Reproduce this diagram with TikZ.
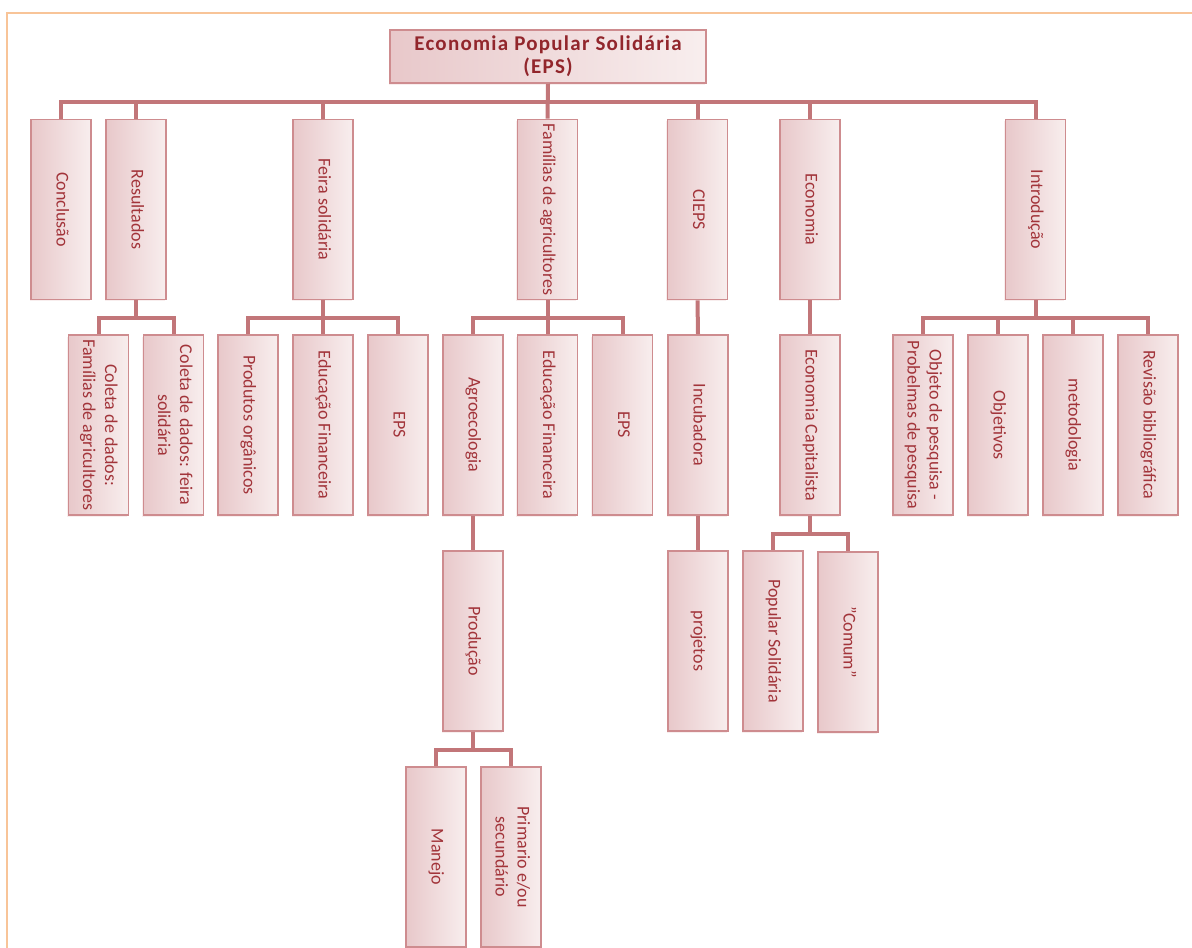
\documentclass[tikz,border=0pt]{standalone}
\usepackage{fontspec}
\setmainfont{Carlito}
\usepackage{graphicx}
\usetikzlibrary{positioning,shadows}
\definecolor{BoxLine}{RGB}{206,140,143}
\definecolor{ConnColor}{RGB}{194,118,121}
\definecolor{BoxDark}{RGB}{232,200,202}
\definecolor{BoxLight}{RGB}{248,238,238}
\definecolor{BoxText}{RGB}{162,52,58}
\definecolor{TitleText}{RGB}{146,38,44}
\definecolor{FrameColor}{RGB}{248,196,152}
\tikzset{box/.style={draw=BoxLine, line width=1.8pt, left color=BoxDark, right color=BoxLight,
			minimum width=60pt, minimum height=180pt, inner sep=0pt, text=BoxText,
			font=\fontsize{18}{22}\selectfont,
			drop shadow={shadow xshift=-1.2pt, shadow yshift=-1.5pt, fill=BoxLine, opacity=0.15}},
	conn/.style={draw=ConnColor, line width=4pt}}
\newcommand{\vlabel}[1]{\rotatebox{-90}{\begin{tabular}{@{}c@{}}#1\end{tabular}}}

\begin{document}
\begin{tikzpicture}[x=1pt,y=-1pt]
	\useasboundingbox (0,0) rectangle (1192,948);
	\draw[FrameColor, line width=2pt] (7,948) -- (7,13) -- (1192,13);
	% top
	\node[box, minimum width=316pt, minimum height=53pt, text=TitleText,
		font=\fontsize{21}{23}\selectfont\bfseries\addfontfeature{LetterSpace=6}, align=center] (eps) at (548,56.5)
		{Economia Popular Solidária\\(EPS)};
	% first row
	\node[box] (concl) at (61,209.5) {\vlabel{Conclusão}};
	\node[box] (result) at (136,209.5) {\vlabel{Resultados}};
	\node[box] (feira) at (323,209.5) {\vlabel{Feira solidária}};
	\node[box] (famil) at (547.5,209.5) {\vlabel{Famílias de agricultores}};
	\node[box] (cieps) at (697.5,209.5) {\vlabel{CIEPS}};
	\node[box] (econ) at (810,209.5) {\vlabel{Economia}};
	\node[box] (intro) at (1035.5,209.5) {\vlabel{Introdução}};
	% second row
	\node[box] (coletaF) at (98.5,425) {\vlabel{Coleta de dados:\\Famílias de agricultores}};
	\node[box] (coletaS) at (173.5,425) {\vlabel{Coleta de dados: feira\\solidária}};
	\node[box] (organ) at (248,425) {\vlabel{Produtos orgânicos}};
	\node[box] (educA) at (323,425) {\vlabel{Educação Financeira}};
	\node[box] (epsA) at (398,425) {\vlabel{EPS}};
	\node[box] (agro) at (473,425) {\vlabel{Agroecologia}};
	\node[box] (educB) at (547.5,425) {\vlabel{Educação Financeira}};
	\node[box] (epsB) at (622.5,425) {\vlabel{EPS}};
	\node[box] (incub) at (698,425) {\vlabel{Incubadora}};
	\node[box] (ecap) at (810,425) {\vlabel{Economia Capitalista}};
	\node[box] (objeto) at (923,425) {\vlabel{Objeto de pesquisa -\\Probelmas de pesquisa}};
	\node[box] (objet) at (998,425) {\vlabel{Objetivos}};
	\node[box] (metod) at (1073,425) {\vlabel{metodologia}};
	\node[box] (revis) at (1148,425) {\vlabel{Revisão bibliográfica}};
	% third row
	\node[box] (prod) at (473,641) {\vlabel{Produção}};
	\node[box] (proj) at (698,641) {\vlabel{projetos}};
	\node[box] (popsol) at (773,641) {\vlabel{Popular Solidária}};
	\node[box] (comum) at (848,642) {\vlabel{"Comum”}};
	% fourth row
	\node[box] (manejo) at (436,857) {\vlabel{Manejo}};
	\node[box] (prim) at (511,857) {\vlabel{Primario e/ou\\secundário}};
	% connectors
	\draw[conn] (eps.south) -- ++(0,18) -| (concl.north);
	\draw[conn] (eps.south) -- ++(0,18) -| (result.north);
	\draw[conn] (eps.south) -- ++(0,18) -| (feira.north);
	\draw[conn] (eps.south) -- (famil.north);
	\draw[conn] (eps.south) -- ++(0,18) -| (cieps.north);
	\draw[conn] (eps.south) -- ++(0,18) -| (econ.north);
	\draw[conn] (eps.south) -- ++(0,18) -| (intro.north);
	\draw[conn] (result.south) -- ++(0,18) -| (coletaF.north);
	\draw[conn] (result.south) -- ++(0,18) -| (coletaS.north);
	\draw[conn] (feira.south) -- ++(0,18) -| (organ.north);
	\draw[conn] (feira.south) -- (educA.north);
	\draw[conn] (feira.south) -- ++(0,18) -| (epsA.north);
	\draw[conn] (famil.south) -- ++(0,18) -| (agro.north);
	\draw[conn] (famil.south) -- (educB.north);
	\draw[conn] (famil.south) -- ++(0,18) -| (epsB.north);
	\draw[conn] (cieps.south) -- (incub.north);
	\draw[conn] (econ.south) -- (ecap.north);
	\draw[conn] (intro.south) -- ++(0,18) -| (objeto.north);
	\draw[conn] (intro.south) -- ++(0,18) -| (objet.north);
	\draw[conn] (intro.south) -- ++(0,18) -| (metod.north);
	\draw[conn] (intro.south) -- ++(0,18) -| (revis.north);
	\draw[conn] (agro.south) -- (prod.north);
	\draw[conn] (incub.south) -- (proj.north);
	\draw[conn] (ecap.south) -- ++(0,18) -| (popsol.north);
	\draw[conn] (ecap.south) -- ++(0,18) -| (comum.north);
	\draw[conn] (prod.south) -- ++(0,18) -| (manejo.north);
	\draw[conn] (prod.south) -- ++(0,18) -| (prim.north);
\end{tikzpicture}
\end{document}
